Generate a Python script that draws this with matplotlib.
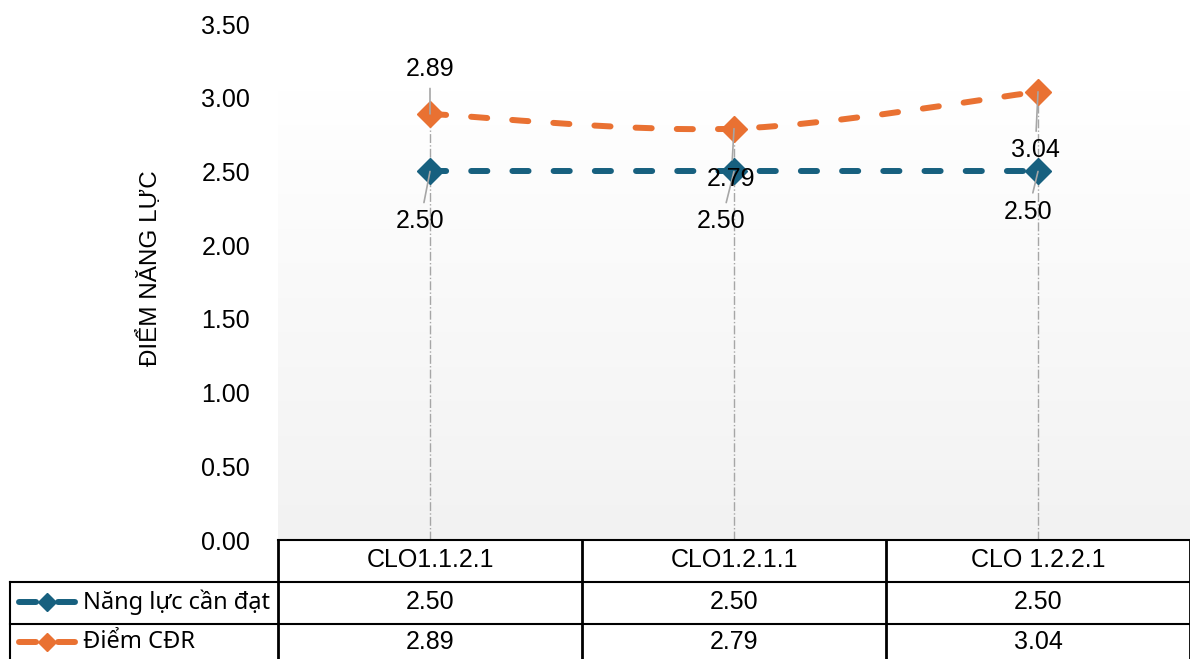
import numpy as np
import matplotlib
matplotlib.use('Agg')
import matplotlib.pyplot as plt
from matplotlib.path import Path
from matplotlib.patches import PathPatch
from matplotlib.lines import Line2D
import matplotlib.transforms as mtransforms

categories = ['CLO1.1.2.1', 'CLO1.2.1.1', 'CLO 1.2.2.1']
target = [2.50, 2.50, 2.50]
score = [2.89, 2.79, 3.04]
series_names = ['Năng lực cần đạt', 'Điểm CĐR']
y_ticks = [0.0, 0.5, 1.0, 1.5, 2.0, 2.5, 3.0, 3.5]

BLUE = '#17607f'
ORANGE = '#e97132'
GRAY = '#a6a6a6'

plt.rcParams['font.family'] = ['Liberation Sans', 'DejaVu Sans']

W, H = 1190, 659
fig = plt.figure(figsize=(W / 100, H / 100), dpi=100)
ax = fig.add_axes([278 / W, 1 - 540 / H, 1 - 278 / W, (540 - 24) / H])

x = np.arange(len(categories))
ax.set_xlim(-0.5, len(categories) - 0.5)
ax.set_ylim(0, 3.5)

# plot area gradient (white -> light gray)
grad = np.linspace(0, 1, 256).reshape(-1, 1)
ax.imshow(grad, cmap=matplotlib.colors.LinearSegmentedColormap.from_list('g', ['#f2f2f2', '#ffffff']),
          extent=(-0.5, len(categories) - 0.5, 0, 3.05), origin='lower', aspect='auto', zorder=0)

for s in ax.spines.values():
    s.set_visible(False)
ax.set_xticks([])
ax.set_yticks(y_ticks)
ax.set_yticklabels(['%.2f' % v for v in y_ticks], fontsize=18)
ax.tick_params(axis='y', length=0, pad=20)
ax.set_ylabel('ĐIỂM NĂNG LỰC', fontsize=17.5)
ax.yaxis.set_label_coords(-0.127, 0.527)

# drop lines
tops = [max(a, b) for a, b in zip(target, score)]
ax.vlines(x, 0, tops, colors=GRAY, linestyles='-.', linewidth=1, zorder=1)

dash = (2.7, 4.2)
ax.plot(x, target, color=BLUE, lw=4.3, dashes=dash, dash_capstyle='round',
        marker='D', ms=13, markeredgecolor=BLUE, zorder=3)

# smoothed line for score (bezier through points)
pts = np.column_stack([x, score]).astype(float)
verts = [pts[0]]
codes = [Path.MOVETO]
n = len(pts)
for i in range(n - 1):
    p0 = pts[i - 1] if i > 0 else pts[i]
    p1 = pts[i]
    p2 = pts[i + 1]
    p3 = pts[i + 2] if i + 2 < n else pts[i + 1]
    c1 = p1 + (p2 - p0) / 6
    c2 = p2 - (p3 - p1) / 6
    verts += [c1, c2, p2]
    codes += [Path.CURVE4] * 3
curve = PathPatch(Path(verts, codes), fill=False, edgecolor=ORANGE, lw=4.3,
                  linestyle=(0, dash), capstyle='round', zorder=3)
ax.add_patch(curve)
ax.plot(x, score, ls='none', marker='D', ms=13, color=ORANGE, zorder=4)

# data labels with leader lines
lab_target = [(-7, -36), (-9, -36), (-7, -29)]
lab_score = [(0, 32), (-2, -36), (-2, -42)]
for vals, offs in [(target, lab_target), (score, lab_score)]:
    for xi, v, off in zip(x, vals, offs):
        ax.annotate('%.2f' % v, (xi, v), xytext=off, textcoords='offset points',
                    ha='center', va='center', fontsize=18,
                    arrowprops=dict(arrowstyle='-', color=GRAY, lw=1.2, shrinkA=3, shrinkB=0),
                    zorder=5)

# data table below the axes
tr = mtransforms.blended_transform_factory(ax.transData, fig.transFigure)
def fy(p):
    return 1 - p / H
rows_y = [540, 582, 624, 666]
left_x = 10 / W
lc = 'black'
fig.add_artist(Line2D([-0.5, len(categories) - 0.5], [fy(rows_y[0])] * 2, transform=tr, color=lc, lw=1.5))
for ry in rows_y[1:3]:
    fig.add_artist(Line2D([left_x, 1], [fy(ry)] * 2, transform=fig.transFigure, color=lc, lw=1.5))
for b in np.arange(-0.5, len(categories), 1.0):
    fig.add_artist(Line2D([b, b], [fy(rows_y[0]), 0], transform=tr, color=lc, lw=2))
fig.add_artist(Line2D([left_x, left_x], [fy(rows_y[1]), 0], transform=fig.transFigure, color=lc, lw=1.5))

for xi, c, a, b in zip(x, categories, target, score):
    fig.text(xi, fy(560), c, transform=tr, ha='center', va='center', fontsize=18)
    fig.text(xi, fy(602), '%.2f' % a, transform=tr, ha='center', va='center', fontsize=18)
    fig.text(xi, fy(642), '%.2f' % b, transform=tr, ha='center', va='center', fontsize=18)

# legend keys in the table
for ry, name, col in zip([602, 642], series_names, [BLUE, ORANGE]):
    for seg in [(19 / W, 36 / W), (58 / W, 75 / W)]:
        fig.add_artist(Line2D(list(seg), [fy(ry)] * 2, transform=fig.transFigure,
                              color=col, lw=4.3, solid_capstyle='round'))
    fig.add_artist(Line2D([47 / W], [fy(ry)], transform=fig.transFigure, ls='none',
                          marker='D', ms=9, color=col))
    fig.text(83 / W, fy(ry), name, ha='left', va='center', fontsize=17,
             family=['Noto Sans', 'DejaVu Sans'])

fig.savefig('out.png', dpi=100)
